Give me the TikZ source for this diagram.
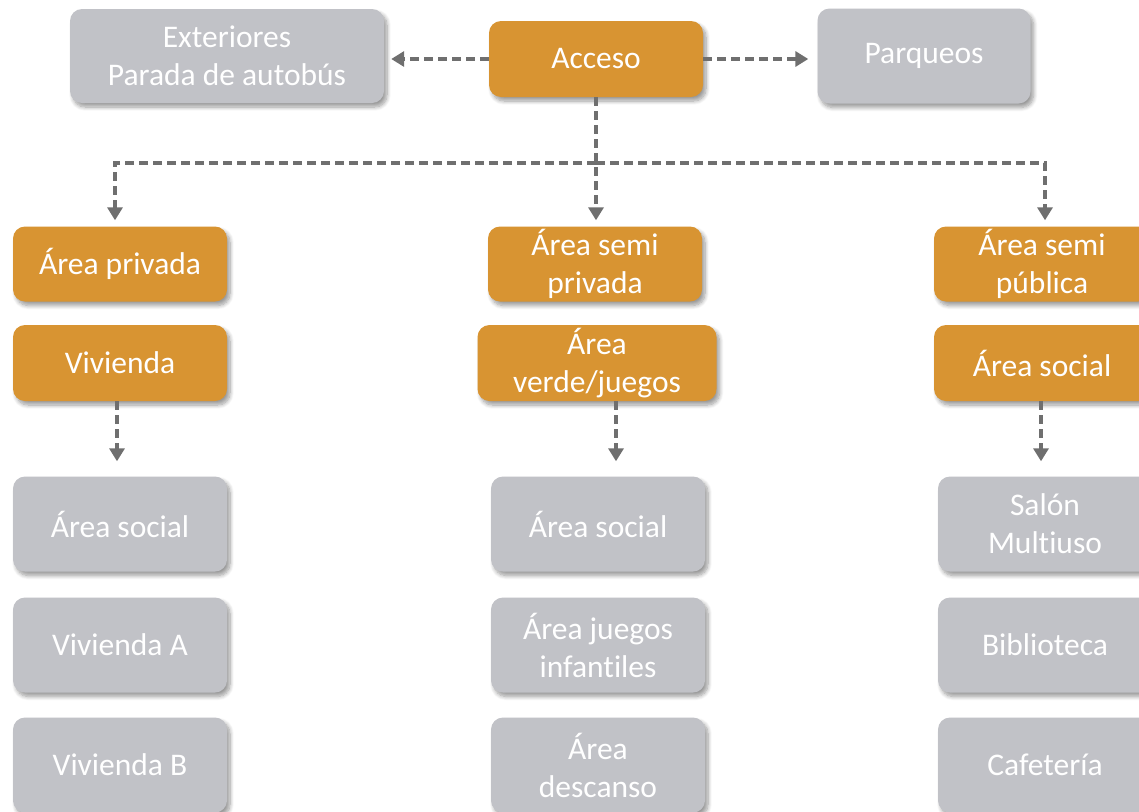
\documentclass[tikz,border=0pt]{standalone}
\usepackage{fontspec}
\setmainfont{Carlito}[Ligatures=NoCommon]
\usetikzlibrary{arrows.meta,shadows.blur}
\definecolor{ochre}{HTML}{D89432}
\definecolor{slate}{HTML}{C1C2C7}
\definecolor{linegray}{HTML}{6F6F6F}
\begin{document}
\begin{tikzpicture}[x=1pt,y=1pt,
  box/.style={rounded corners=12pt, text=white, align=center,
    font=\fontsize{31.5}{38}\selectfont, inner sep=0pt,
    blur shadow={shadow xshift=3pt, shadow yshift=-4pt, shadow blur steps=8,
      shadow blur radius=4pt, shadow opacity=40}},
  hot/.style={box, fill=ochre},
  cool/.style={box, fill=slate},
  link/.style={draw=linegray, line width=4pt, dash pattern=on 9pt off 5pt},
  arr/.style={link, -{Triangle[length=13pt,width=15pt]}}]
\useasboundingbox (0,0) rectangle (1139,-811);

% top row
\node[cool, minimum width=314pt, minimum height=94pt] (ext) at (227,-56) {Exteriores\\Parada de autobús};
\node[hot, minimum width=214pt, minimum height=76pt] (acc) at (596,-59) {Acceso};
\node[cool, minimum width=213pt, minimum height=95pt] (par) at (924,-56) {Parqueos};

% zone headers
\node[hot, minimum width=214pt, minimum height=75pt] (priv) at (120,-264) {Área privada};
\node[hot, minimum width=214pt, minimum height=76pt] (viv) at (120,-363) {Vivienda};
\node[hot, minimum width=214pt, minimum height=75pt] (semipriv) at (595,-264) {Área semi\\privada};
\node[hot, minimum width=239pt, minimum height=76pt] (verde) at (597,-363) {Área\\verde/juegos};
\node[hot, minimum width=216pt, minimum height=75pt] (semipub) at (1042,-264) {Área semi\\pública};
\node[hot, minimum width=216pt, minimum height=76pt] (soc) at (1042,-363) {Área social};

% left column
\node[cool, minimum width=214pt, minimum height=95pt] (l1) at (120,-524) {Área social};
\node[cool, minimum width=214pt, minimum height=95pt] (l2) at (120,-645) {Vivienda A};
\node[cool, minimum width=214pt, minimum height=95pt] (l3) at (120,-765) {Vivienda B};

% middle column
\node[cool, minimum width=214pt, minimum height=95pt] (m1) at (598,-524) {Área social};
\node[cool, minimum width=214pt, minimum height=95pt] (m2) at (598,-645) {Área juegos\\infantiles};
\node[cool, minimum width=214pt, minimum height=95pt] (m3) at (598,-765) {Área\\descanso};

% right column
\node[cool, minimum width=214pt, minimum height=95pt] (r1) at (1045,-524) {Salón\\Multiuso};
\node[cool, minimum width=214pt, minimum height=95pt] (r2) at (1045,-645) {Biblioteca};
\node[cool, minimum width=214pt, minimum height=95pt] (r3) at (1045,-765) {Cafetería};

% connectors
\coordinate (bus) at (0,-163);
\draw[arr, shorten >=7pt] (acc.west) -- (acc.west -| ext.east);
\draw[arr, shorten >=9pt] (acc.east) -- (acc.east -| par.west);
\draw[arr, shorten >=6pt] (acc.south) -- (acc.south |- semipriv.north);
\draw[arr, shorten >=6pt] (acc.south |- bus) -- ([xshift=-5pt]priv.north |- bus) -- ([xshift=-5pt]priv.north);
\draw[arr, shorten >=6pt] (acc.south |- bus) -- ([xshift=3pt]semipub.north |- bus) -- ([xshift=3pt]semipub.north);
\draw[arr, shorten >=15pt] ([xshift=-3pt]viv.south) -- ([xshift=-3pt]viv.south |- l1.north);
\draw[arr, shorten >=15pt] ([xshift=19pt]verde.south) -- ([xshift=19pt]verde.south |- m1.north);
\draw[arr, shorten >=15pt] ([xshift=-1pt]soc.south) -- ([xshift=-1pt]soc.south |- r1.north);
\end{tikzpicture}
\end{document}
